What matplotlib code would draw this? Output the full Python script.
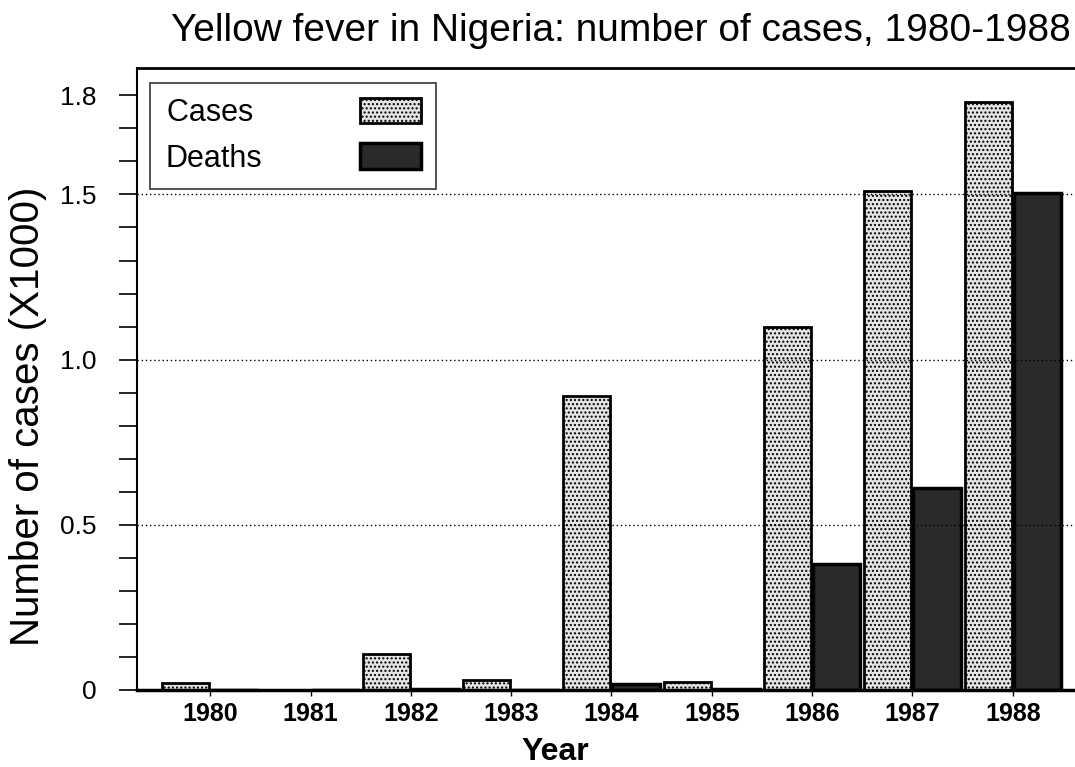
import matplotlib
matplotlib.use("Agg")
import matplotlib.pyplot as plt
import numpy as np

years = ["1980", "1981", "1982", "1983", "1984", "1985", "1986", "1987", "1988"]
cases = [0.02, 0.0, 0.11, 0.03, 0.89, 0.025, 1.10, 1.51, 1.78]
deaths = [0.0, 0.0, 0.003, 0.0, 0.018, 0.004, 0.38, 0.61, 1.505]
yticks = [0, 0.5, 1.0, 1.5, 1.8]
ytick_labels = ["0", "0.5", "1.0", "1.5", "1.8"]

plt.rcParams['font.family'] = ['Liberation Sans', 'DejaVu Sans']
plt.rcParams['hatch.color'] = '#9a9a9a'

fig = plt.figure(figsize=(10.75, 7.67), dpi=100)
ax = fig.add_axes([0.1274, 0.1004, 0.8726, 0.8106])

x = np.arange(len(years))
w = 0.47
bc = ax.bar(x - 0.245, cases, width=w, facecolor="#e4e4e4", edgecolor="black",
            linewidth=2, hatch="....", label="Cases\u00a0", zorder=2)
bd = ax.bar(x + 0.245, deaths, width=w, facecolor="#2a2a2a", edgecolor="black",
            linewidth=2.5, label="Deaths", zorder=2)

ax.set_xlim(-0.73, 8.62)
ax.set_ylim(0, 1.882)
ax.set_yticks(yticks)
ax.set_yticklabels(ytick_labels, fontsize=19)
ax.set_yticks(np.arange(0, 1.85, 0.1), minor=True)
ax.tick_params(axis='y', which='both', direction='out', length=13, width=1.2, pad=16)
ax.set_xticks(x)
ax.set_xticklabels(years, fontsize=18, fontweight='bold')
ax.tick_params(axis='x', direction='out', length=4, width=1, pad=5)

for yv in [0.5, 1.0, 1.5]:
    ax.axhline(yv, color='black', linestyle=(0, (1, 2)), linewidth=1, zorder=3)

ax.spines['right'].set_visible(False)
ax.spines['left'].set_linewidth(1.5)
ax.spines['bottom'].set_linewidth(2.5)
ax.spines['top'].set_linewidth(2)

ax.set_ylabel("Number of cases (X1000)", fontsize=29)
ax.yaxis.set_label_coords(-0.096, 0.44)
ax.set_xlabel("Year", fontsize=23, fontweight='bold')
ax.xaxis.set_label_coords(0.446, -0.075)
fig.text(0.578, 0.96, "Yellow fever in Nigeria: number of cases, 1980-1988",
         fontsize=28, ha='center', va='center')

leg = ax.legend(loc='upper left', bbox_to_anchor=(0.014, 0.977), markerfirst=False,
                fontsize=22, frameon=True, fancybox=False, edgecolor='black',
                handlelength=2.0, handleheight=0.9, labelspacing=0.5,
                handletextpad=3.2, borderpad=0.5, borderaxespad=0)
leg.get_frame().set_linewidth(1.2)

fig.savefig("out.png", dpi=100)
